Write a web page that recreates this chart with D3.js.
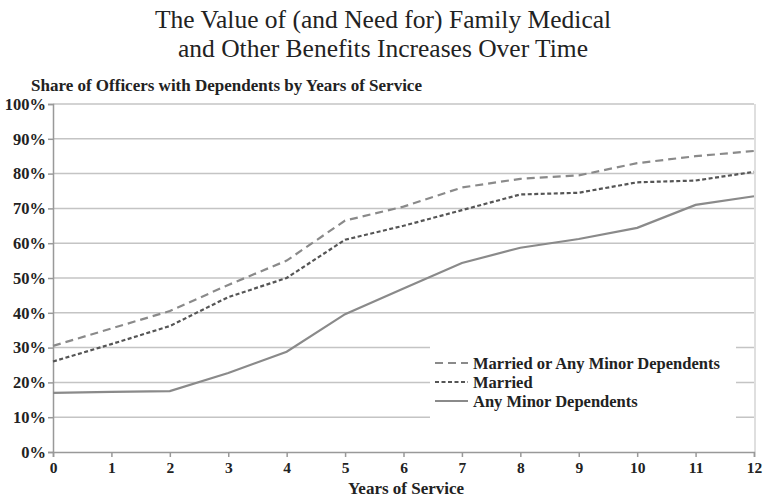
<!DOCTYPE html>
<html>
<head>
<meta charset="utf-8">
<script src="https://cdn.jsdelivr.net/npm/d3@7"></script>
<style>
  body { margin: 0; background: #fff; }
  text { font-family: "Liberation Serif", "Times New Roman", serif; fill: #222; }
</style>
</head>
<body>
<svg width="767" height="498"></svg>
<script>
// chart data
var years = [0, 1, 2, 3, 4, 5, 6, 7, 8, 9, 10, 11, 12];
var marriedOrMinor = [30.5, 35.5, 40.5, 48, 55, 66.5, 70.5, 76, 78.5, 79.5, 83, 85, 86.5];
var married = [26, 31, 36.2, 44.5, 50, 61, 65, 69.5, 74, 74.5, 77.5, 78, 80.5];
var anyMinor = [17, 17.3, 17.5, 22.7, 28.8, 39.6, 47, 54.3, 58.7, 61.2, 64.4, 71, 73.5];
var yTicks = [0, 10, 20, 30, 40, 50, 60, 70, 80, 90, 100];
var seriesNames = ["Married or Any Minor Dependents", "Married", "Any Minor Dependents"];

var svg = d3.select("svg");
// plot box (window.top is reserved, so prefixed names)
var plotL = 53, plotR = 754, plotT = 104, plotB = 452;

var x = d3.scaleLinear().domain([0, 12]).range([plotL, plotR]);
var y = d3.scaleLinear().domain([0, 100]).range([plotB, plotT]);

// titles
svg.append("text").attr("x", 383).attr("y", 28).attr("text-anchor", "middle")
    .style("font-size", "25.5px").text("The Value of (and Need for) Family Medical");
svg.append("text").attr("x", 383).attr("y", 57).attr("text-anchor", "middle")
    .style("font-size", "25.5px").text("and Other Benefits Increases Over Time");
svg.append("text").attr("x", 31).attr("y", 91)
    .style("font-size", "17px").style("font-weight", "bold")
    .text("Share of Officers with Dependents by Years of Service");

// gridlines
svg.append("g").selectAll("line")
    .data(yTicks.slice(1))
    .enter().append("line")
    .attr("x1", plotL).attr("x2", plotR)
    .attr("y1", function(d) { return y(d); })
    .attr("y2", function(d) { return y(d); })
    .attr("stroke", "#c4c4c4").attr("stroke-width", 1.5);

// right border
svg.append("line").attr("x1", plotR + 1).attr("x2", plotR + 1)
    .attr("y1", plotT).attr("y2", plotB)
    .attr("stroke", "#d4d4d4").attr("stroke-width", 1.5);

// axes
var yAxis = svg.append("g").attr("transform", "translate(" + plotL + ",0)")
    .call(d3.axisLeft(y).tickValues(yTicks).tickSize(5).tickPadding(2)
        .tickFormat(function(d) { return d + "%"; }));
var xAxis = svg.append("g").attr("transform", "translate(0," + plotB + ")")
    .call(d3.axisBottom(x).tickValues(years).tickSize(5).tickPadding(5));

[yAxis, xAxis].forEach(function(a) {
    a.select(".domain").attr("stroke", "#999").attr("stroke-width", 1.5);
    a.selectAll(".tick line").attr("stroke", "#999").attr("stroke-width", 1.5);
    a.selectAll("text").style("font-size", "15.5px").style("font-weight", "bold")
        .style("font-family", "Liberation Serif, serif").attr("fill", "#222");
});
yAxis.selectAll("text").style("font-size", "16.5px");

svg.append("text").attr("x", 406).attr("y", 494).attr("text-anchor", "middle")
    .style("font-size", "17px").style("font-weight", "bold").text("Years of Service");

// lines
var line = d3.line()
    .x(function(d, i) { return x(years[i]); })
    .y(function(d) { return y(d); });

var styles = [
    { data: marriedOrMinor, color: "#8a8a8a", dash: "8,5", width: 2.2 },
    { data: married, color: "#555", dash: "4,2.5", width: 2.2 },
    { data: anyMinor, color: "#8a8a8a", dash: null, width: 2.2 }
];

// legend background covers gridlines
svg.append("rect").attr("x", 430).attr("y", 342).attr("width", 306).attr("height", 80)
    .attr("fill", "#fff");

styles.forEach(function(s) {
    svg.append("path").datum(s.data)
        .attr("d", line)
        .attr("fill", "none")
        .attr("stroke", s.color)
        .attr("stroke-width", s.width)
        .attr("stroke-dasharray", s.dash);
});

// legend
var legend = svg.append("g").selectAll("g")
    .data(styles)
    .enter().append("g")
    .attr("transform", function(d, i) { return "translate(435," + (363 + i * 19) + ")"; });

legend.append("line")
    .attr("x1", 0).attr("x2", 33).attr("y1", 0).attr("y2", 0)
    .attr("stroke", function(d) { return d.color; })
    .attr("stroke-width", 2)
    .attr("stroke-dasharray", function(d) { return d.dash; });

legend.append("text")
    .attr("x", 38).attr("y", 5.5)
    .style("font-size", "16.5px").style("font-weight", "bold")
    .text(function(d, i) { return seriesNames[i]; });
</script>
</body>
</html>
